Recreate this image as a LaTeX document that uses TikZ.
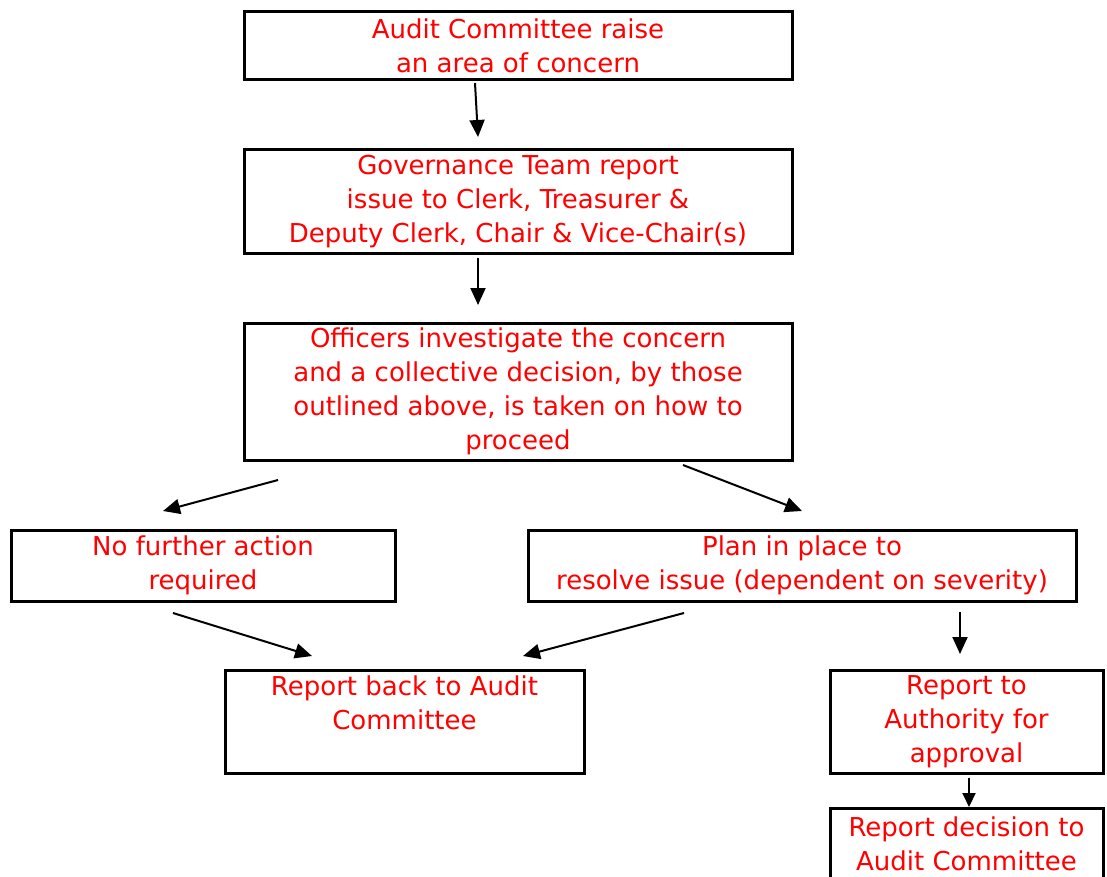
\documentclass[tikz,border=0pt]{standalone}
\usepackage{fontspec}
\setmainfont{DejaVu Sans}
\usetikzlibrary{arrows.meta}
\definecolor{txtred}{RGB}{255,0,0}
\begin{document}
\begin{tikzpicture}[x=1pt,y=-1pt,
  box/.style={draw=black,line width=3pt,inner sep=0pt,align=center,text=txtred,
    font=\fontsize{26}{34}\selectfont},
  arr/.style={line width=2pt,-{Triangle[length=17pt,width=15pt]}}]
\useasboundingbox (0,0) rectangle (1107,877);
\fill[white] (0,0) rectangle (1107,877);
\node[box,minimum width=548pt,minimum height=68pt] (A) at (518,45.5)
  {Audit Committee raise\\an area of concern};
\node[box,minimum width=548pt,minimum height=103pt] (B) at (518,201.5)
  {Governance Team report\\issue to Clerk, Treasurer \&\\Deputy Clerk, Chair \& Vice-Chair(s)};
\node[box,minimum width=548pt,minimum height=137pt] (C) at (518,391.5)
  {Officers investigate the concern\\and a collective decision, by those\\outlined above, is taken on how to\\proceed};
\node[box,minimum width=384pt,minimum height=71pt] (D) at (203,565.5)
  {No further action\\required};
\node[box,minimum width=548pt,minimum height=71pt] (E) at (802,565.5)
  {Plan in place to\\resolve issue (dependent on severity)};
\node[box,minimum width=359pt,minimum height=103pt,text depth=38pt] (F) at (404.5,721.5)
  {Report back to Audit\\Committee};
\node[box,minimum width=273pt,minimum height=103pt] (G) at (966.5,722)
  {Report to\\Authority for\\approval};
\node[box,minimum width=273pt,minimum height=71pt] (H) at (966.5,843.5)
  {Report decision to\\Audit Committee};
% connector end points
\coordinate (ab0) at (475,83);  \coordinate (ab1) at (478,137);
\coordinate (bc0) at (478,258); \coordinate (bc1) at (478,305);
\coordinate (cd0) at (278,480); \coordinate (cd1) at (163,511);
\coordinate (ce0) at (683,465); \coordinate (ce1) at (802,511);
\coordinate (df0) at (173,613); \coordinate (df1) at (312,656);
\coordinate (ef0) at (684,613); \coordinate (ef1) at (523,656);
\coordinate (eg0) at (960,612); \coordinate (eg1) at (960,654);
\coordinate (gh0) at (969,778); \coordinate (gh1) at (969,807);
\draw[arr] (ab0) -- (ab1);
\draw[arr] (bc0) -- (bc1);
\draw[arr] (cd0) -- (cd1);
\draw[arr] (ce0) -- (ce1);
\draw[arr] (df0) -- (df1);
\draw[arr] (ef0) -- (ef1);
\draw[arr] (eg0) -- (eg1);
\draw[arr,-{Triangle[length=14pt,width=13pt]}] (gh0) -- (gh1);
\end{tikzpicture}
\end{document}
